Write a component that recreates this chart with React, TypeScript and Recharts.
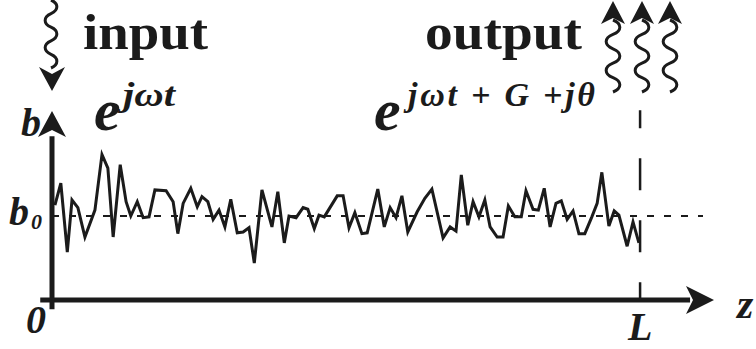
import { Line, LineChart, ReferenceLine, XAxis, YAxis } from "recharts";

// position along the line (L = 100) and the field amplitude (b0 = 1)
const zValues = [
    0.5, 1.5, 2.6, 3.4, 4.4, 5.6, 7.3, 8.5, 9.5, 10.4, 11.6, 12.6, 13.4, 14.5, 15.5, 16.5, 17.5, 19.4, 20.6, 21.4,
    22.3, 23.6, 24.7, 25.5, 26.5, 27.4, 28.4, 29.4, 30.4, 31.5, 32.5, 33.5, 34.4, 35.7, 37.4, 38.4, 39.5, 40.3, 41.5,
    42.7, 43.5, 44.6, 45.4, 46.3, 48.5, 49.5, 50.5, 51.5, 52.7, 53.6, 55.4, 56.5, 57.5, 58.5, 59.5, 60.5, 62.1, 63.4,
    64.6, 66.5, 67.7, 68.7, 69.6, 70.7, 71.6, 72.6, 73.6, 74.5, 75.7, 76.7, 77.6, 78.7, 79.8, 80.6, 81.8, 82.7, 83.7,
    84.7, 85.7, 86.6, 87.6, 88.6, 89.6, 90.6, 91.8, 92.7, 93.5, 94.7, 95.6, 96.4, 97.8, 98.8, 99.8,
];
const bValues = [
    1.13, 1.39, 0.57, 1.19, 1.1, 0.75, 1.07, 1.73, 1.57, 0.75, 1.61, 1.17, 1.0, 1.17, 0.98, 0.99, 1.31, 1.3, 1.17, 0.79,
    1.15, 1.33, 1.11, 1.23, 1.17, 0.96, 1.07, 0.87, 1.2, 0.8, 0.81, 0.86, 0.44, 1.31, 0.87, 1.29, 0.68, 1.0, 0.98,
    1.1, 1.08, 0.85, 1.01, 0.99, 1.24, 1.24, 0.86, 1.04, 0.79, 0.8, 1.32, 0.87, 1.1, 0.98, 1.24, 0.81, 1.05, 1.21,
    1.32, 0.74, 0.87, 0.82, 1.49, 0.89, 1.17, 0.99, 1.19, 0.87, 0.75, 0.75, 1.12, 0.99, 0.99, 1.3, 1.08, 1.07, 1.33,
    0.87, 1.15, 1.18, 0.96, 1.06, 0.79, 0.79, 0.99, 1.15, 1.52, 0.88, 1.06, 1.01, 0.64, 0.93, 0.68,
];
const L = 100;
const b0 = 1;
const zDomain = [0, 112.4];
const bDomain = [0, 2.1667];

const INK = "#1b1b1b";
const SERIF = "'Times New Roman', Times, 'Liberation Serif', Tinos, 'Noto Serif', 'DejaVu Serif', serif";

// squiggly photon path going straight up/down around x = cx
function wave(cx: number, y0: number, y1: number, amp: number, halves: number) {
    const step = (y1 - y0) / halves;
    let d = `M ${cx} ${y0}`;
    for (let i = 0; i < halves; i++) {
        const s = i % 2 === 0 ? 1 : -1;
        const ya = y0 + i * step;
        d += ` C ${cx + s * amp * 1.3} ${ya + step * 0.25}, ${cx + s * amp * 1.3} ${ya + step * 0.75}, ${cx} ${ya + step}`;
    }
    return d;
}

function T(props: any) {
    const { italic, ...rest } = props;
    return (
        <text
            fill={INK}
            style={{ fontFamily: SERIF, fontWeight: 700, fontStyle: italic ? "italic" : "normal" }}
            {...rest}
        />
    );
}

function Decor() {
    const outs = [613, 642, 670];
    return (
        <svg width={756} height={349} style={{ position: "absolute", left: 0, top: 0, pointerEvents: "none" }}>
            {/* axis arrowheads */}
            <polygon points="52,111 38,137 52,130 66,137" fill={INK} />
            <polygon points="714,300 686,286 693,300 686,314" fill={INK} />

            {/* incoming wave */}
            <path d={wave(51, 0, 68, 6, 5)} fill="none" stroke={INK} strokeWidth={3} />
            <polygon points="52,91 39,67 52,74 65,67" fill={INK} />

            {/* outgoing waves */}
            {outs.map((cx) => (
                <g key={cx}>
                    <path d={wave(cx, 20, 92, 7, 5)} fill="none" stroke={INK} strokeWidth={3} />
                    <polygon points={`${cx},1 ${cx - 12},24 ${cx},18 ${cx + 12},24`} fill={INK} />
                </g>
            ))}

            <T x={83} y={49} fontSize={50} textLength={125} lengthAdjust="spacingAndGlyphs">input</T>
            <T x={425} y={49} fontSize={50} textLength={157} lengthAdjust="spacingAndGlyphs">output</T>

            <T italic x={94} y={130} fontSize={60}>e</T>
            <T italic x={123} y={106} fontSize={34} textLength={52} lengthAdjust="spacingAndGlyphs">jωt</T>
            <T italic x={374} y={130} fontSize={60}>e</T>
            <T italic x={408} y={106} fontSize={34} textLength={187} lengthAdjust="spacing">jωt + G +jθ</T>

            <T italic x={21} y={136} fontSize={40}>b</T>
            <T italic x={9} y={225} fontSize={40}>b</T>
            <T italic x={31} y={229} fontSize={22}>0</T>
            <T italic x={26} y={333} fontSize={40}>0</T>
            <T italic x={628} y={340} fontSize={40}>L</T>
            <T italic x={737} y={318} fontSize={42}>z</T>
        </svg>
    );
}

export default function App() {
    const data = zValues.map((z, i) => ({ z, b: bValues[i] }));

    return (
        <div style={{ position: "absolute", left: 0, top: 0, width: 756, height: 349, background: "#fff" }}>
            <LineChart width={756} height={349} data={data} margin={{ top: 118, right: 43, bottom: 49, left: 52 }}>
                <XAxis dataKey="z" type="number" domain={zDomain} hide />
                <YAxis type="number" domain={bDomain} hide />
                {/* b0 level */}
                <ReferenceLine
                    segment={[{ x: 0, y: b0 }, { x: 110.7, y: b0 }]}
                    stroke={INK}
                    strokeWidth={2}
                    strokeDasharray="7 10"
                    ifOverflow="visible"
                />
                {/* end of the line, z = L */}
                <ReferenceLine
                    segment={[{ x: L, y: 2.26 }, { x: L, y: 0 }]}
                    stroke={INK}
                    strokeWidth={2.5}
                    strokeDasharray="18 30 32 30 32 30 18"
                    ifOverflow="visible"
                />
                {/* axes */}
                <ReferenceLine
                    segment={[{ x: -2, y: 0 }, { x: 108.5, y: 0 }]}
                    stroke={INK}
                    strokeWidth={5}
                    ifOverflow="visible"
                />
                <ReferenceLine
                    segment={[{ x: 0, y: -0.11 }, { x: 0, y: 1.95 }]}
                    stroke={INK}
                    strokeWidth={5}
                    ifOverflow="visible"
                />
                <Line
                    type="linear"
                    dataKey="b"
                    stroke={INK}
                    strokeWidth={3}
                    dot={false}
                    isAnimationActive={false}
                />
            </LineChart>
            <Decor />
        </div>
    );
}
